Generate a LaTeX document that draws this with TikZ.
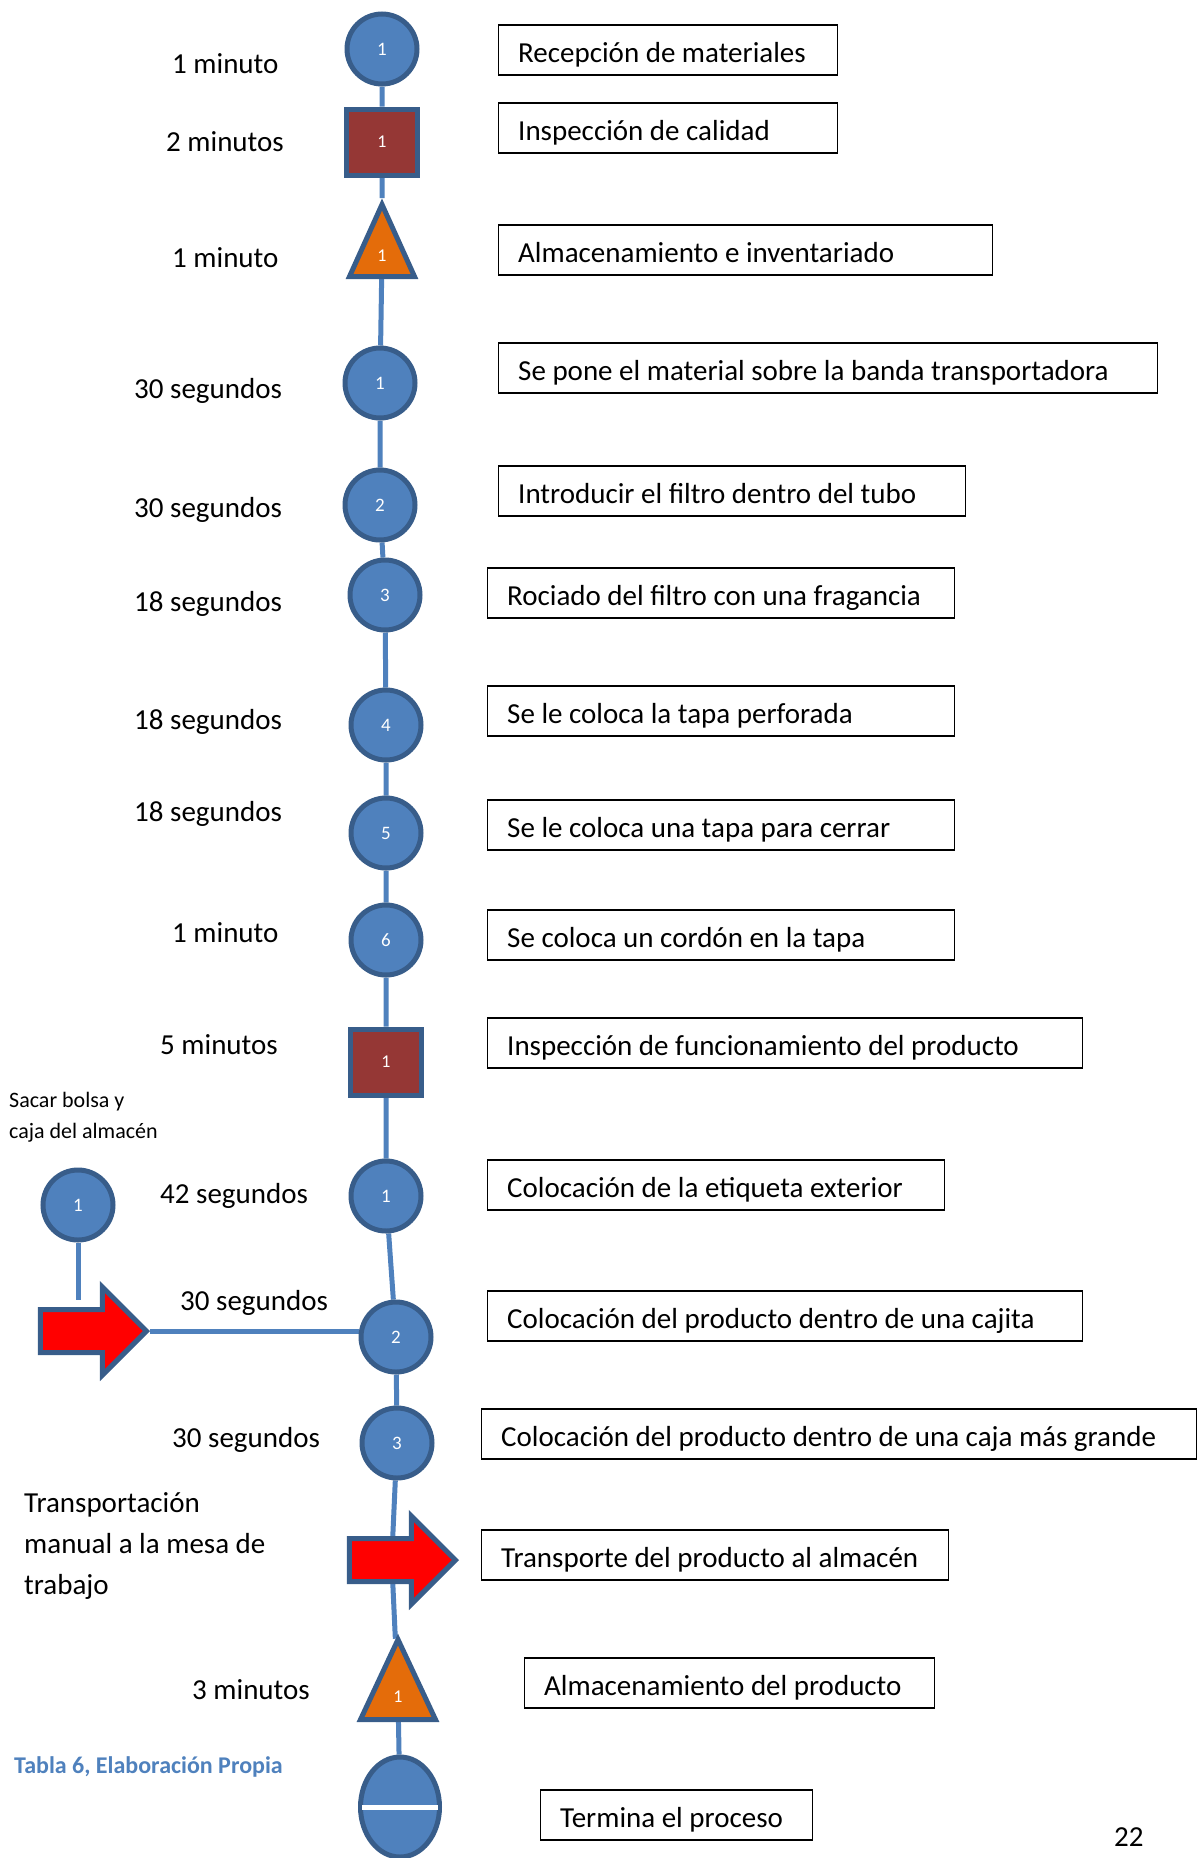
\documentclass[tikz,border=0pt]{standalone}
\usepackage{fontspec}
\setmainfont{Carlito}
\usetikzlibrary{shapes.geometric,shapes.arrows,backgrounds}
\definecolor{azul}{HTML}{4F81BD}
\definecolor{azulosc}{HTML}{385D8A}
\definecolor{rojoosc}{HTML}{953735}
\definecolor{naranja}{HTML}{E46C0A}
\tikzset{liga/.style={azul,line width=5pt}}

\begin{document}
\begin{tikzpicture} [x=1pt,y=-1pt,font=\fontsize{29}{35}\selectfont]

\tikzstyle{borde}=[draw=azulosc,line width=5pt]
\tikzstyle{op}=[borde,circle,fill=azul,minimum size=70pt,inner sep=0pt,text=white,font=\fontsize{19}{22}\selectfont]
\tikzstyle{insp}=[borde,rectangle,fill=rojoosc,minimum width=71pt,minimum height=66pt,inner sep=0pt,text=white,font=\fontsize{18}{20}\selectfont]
\tikzstyle{alm}=[borde,isosceles triangle,shape border rotate=90,isosceles triangle stretches,fill=naranja,inner sep=0pt,text=white,font=\fontsize{18}{20}\selectfont]
\tikzstyle{transp}=[borde,single arrow,fill=red,inner xsep=0pt,inner ysep=19pt,single arrow head extend=22.5pt,minimum height=106pt]
\tikzstyle{caja}=[draw,line width=1.2pt,minimum height=50pt,anchor=west]
\tikzstyle{desc}=[anchor=west,inner sep=0pt,xshift=20pt,text height=30pt,text depth=6pt]
\tikzstyle{tiempo}=[anchor=west,inner sep=0pt]

  \useasboundingbox (0,0) rectangle (1198,1858);

  % simbolos del diagrama
  \node[op] (c1) at (382,49) {1};
  \node[insp] (sq1) at (382,142) {1};
  \node[alm,minimum width=65pt,minimum height=72pt,anchor=apex] (t1) at (382,198) {1};
  \node[op] (c2) at (380,383) {1};
  \node[op] (c3) at (380,505) {2};
  \node[op] (c4) at (385,595) {3};
  \node[op] (c5) at (386,725) {4};
  \node[op] (c6) at (386,833) {5};
  \node[op] (c7) at (386,940) {6};
  \node[insp] (sq2) at (386,1062) {1};
  \node[op] (c8) at (386,1196) {1};
  \node[op] (c9) at (396,1337) {2};
  \node[op] (c10) at (397,1443) {3};
  \node[transp,anchor=tip] (a2) at (459,1560) {};
  \node[alm,minimum width=75pt,minimum height=80pt,anchor=apex] (t2) at (398,1633) {1};
  \node[borde,ellipse,fill=azul,minimum width=79pt,minimum height=100pt] (fin) at (400,1807) {};
  \draw[white,line width=5pt,shorten <=4pt,shorten >=4pt] (fin.west) -- (fin.east);

  \node[op] (cl) at (78,1205) {1};
  \coordinate (fl) at (78,1300);
  \node[transp,anchor=tip] (a1) at (150,1331) {};

  \begin{scope}[on background layer]
    \draw[liga] (c1) -- (sq1) -- (t1) -- (c2) -- (c3) -- (c4) -- (c5) -- (c6) -- (c7)
      -- (sq2) -- (c8) -- (c9) -- (c10) -- (a2) -- (t2) -- (fin);
    \draw[liga] (cl) -- (fl);
    \draw[liga] (a1.tip) -- (a1.tip -| c9.west);
  \end{scope}

  % tiempos
  \node[tiempo] (tm1) at (172,64) {1 minuto};
  \node[tiempo] (tm2) at (166,142) {2 minutos};
  \node[tiempo] (tm3) at (172,258) {1 minuto};
  \node[tiempo] (tm4) at (134,391) {30 segundos};
  \node[tiempo] (tm5) at (134,510) {30 segundos};
  \node[tiempo] (tm6) at (134,604) {18 segundos};
  \node[tiempo] (tm7) at (134,722) {18 segundos};
  \node[tiempo] (tm8) at (134,814) {18 segundos};
  \node[tiempo] (tm9) at (172,933) {1 minuto};
  \node[tiempo] (tm10) at (160,1045) {5 minutos};
  \node[tiempo] (tm11) at (160,1196) {42 segundos};
  \node[tiempo] (tm12) at (180,1303) {30 segundos};
  \node[tiempo] (tm13) at (172,1440) {30 segundos};
  \node[tiempo] (tm14) at (192,1690) {3 minutos};

  \node[tiempo,anchor=north west,align=left,font=\fontsize{22}{31}\selectfont] (sacar) at (9,1092) {Sacar bolsa y\\caja del almacén};
  \node[tiempo,anchor=north west,align=left,font=\fontsize{29}{41}\selectfont] (manual) at (24,1492) {Transportación\\manual a la mesa de\\trabajo};
  \node[tiempo,text=azul,font=\bfseries\fontsize{24}{28}\selectfont] (tabla) at (14,1767) {Tabla 6, Elaboración Propia};
  \node[tiempo] (pag) at (1114,1837) {22};

  % descripciones
  \node[caja,minimum width=339pt,label={[desc]west:Recepción de materiales}] (d1) at (498,50) {};
  \node[caja,minimum width=339pt,label={[desc]west:Inspección de calidad}] (d2) at (498,128) {};
  \node[caja,minimum width=494pt,label={[desc]west:Almacenamiento e inventariado}] (d3) at (498,250) {};
  \node[caja,minimum width=659pt,label={[desc]west:Se pone el material sobre la banda transportadora}] (d4) at (498,368) {};
  \node[caja,minimum width=467pt,label={[desc]west:Introducir el filtro dentro del tubo}] (d5) at (498,491) {};
  \node[caja,minimum width=467pt,label={[desc]west:Rociado del filtro con una fragancia}] (d6) at (487,593) {};
  \node[caja,minimum width=467pt,label={[desc]west:Se le coloca la tapa perforada}] (d7) at (487,711) {};
  \node[caja,minimum width=467pt,label={[desc]west:Se le coloca una tapa para cerrar}] (d8) at (487,825) {};
  \node[caja,minimum width=467pt,label={[desc]west:Se coloca un cordón en la tapa}] (d9) at (487,935) {};
  \node[caja,minimum width=595pt,label={[desc]west:Inspección de funcionamiento del producto}] (d10) at (487,1043) {};
  \node[caja,minimum width=457pt,label={[desc]west:Colocación de la etiqueta exterior}] (d11) at (487,1185) {};
  \node[caja,minimum width=595pt,label={[desc]west:Colocación del producto dentro de una cajita}] (d12) at (487,1316) {};
  \node[caja,minimum width=715pt,label={[desc]west:Colocación del producto dentro de una caja más grande}] (d13) at (481,1434) {};
  \node[caja,minimum width=467pt,label={[desc]west:Transporte del producto al almacén}] (d14) at (481,1555) {};
  \node[caja,minimum width=410pt,label={[desc]west:Almacenamiento del producto}] (d15) at (524,1683) {};
  \node[caja,minimum width=272pt,label={[desc]west:Termina el proceso}] (d16) at (540,1815) {};
\end{tikzpicture}
\end{document}
